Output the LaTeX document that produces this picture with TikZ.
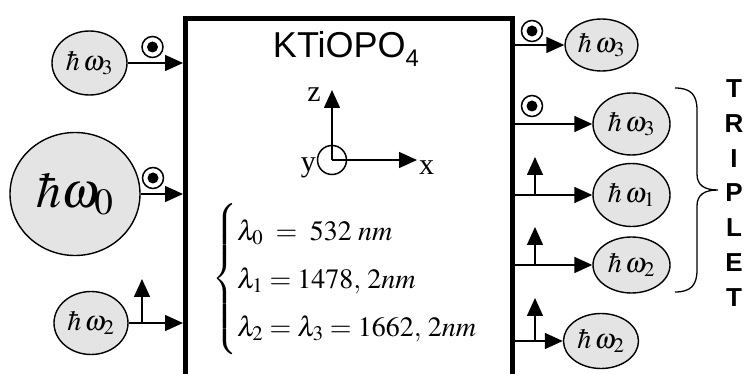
\documentclass[tikz,border=0pt]{standalone}
\usepackage{mathptmx}
\usepackage[no-math]{fontspec}
\setmainfont{Liberation Serif}
\newfontfamily\arial{Liberation Sans}
\usetikzlibrary{arrows.meta,shapes.geometric}
\definecolor{ellgray}{RGB}{228,228,228}
\begin{document}
\begin{tikzpicture}[x=1pt,y=-1pt,
  photon/.style={ellipse, draw, line width=1.4pt, fill=ellgray, inner sep=0pt, font=\fontsize{28}{30}\selectfont},
  arr/.style={line width=1.5pt, -{Triangle[length=18pt,width=16pt]}},
  pol/.style={circle, draw, fill=white, line width=1.5pt, minimum size=21pt, inner sep=0pt},
  lbl/.style={inner sep=0pt, font=\fontsize{30}{30}\selectfont}]
\useasboundingbox (0,0) rectangle (748,374);
\clip (0,0) rectangle (748,374);
% crystal
\node[draw, line width=5pt, outer sep=0pt, minimum width=326.5pt, minimum height=420pt, anchor=north west, inner sep=0pt] (crystal) at (185.5,18.5) {};
\node[anchor=base, inner sep=0pt, font=\arial\fontsize{36}{40}\selectfont] (title) at (346,58) {KTiOPO\raisebox{-9pt}{\fontsize{24}{24}\selectfont 4}};
% axes
\node[circle, draw, line width=1.5pt, minimum size=29pt, inner sep=0pt] (O) at (332,160) {};
\coordinate (zt) at (332,90);
\coordinate (xt) at (417,160);
\draw[arr] (O.center) -- (zt);
\draw[arr] (O.center) -- (xt);
\node[lbl, anchor=base east] (zl) at (321,102) {z};
\node[lbl, anchor=base east] (yl) at (316,172) {y};
\node[lbl, anchor=base west] (xl) at (419,175) {x};
% wavelengths
\node[anchor=west, inner sep=0pt, font=\fontsize{28}{32}\selectfont] (lam) at (212,279) {%
  \renewcommand{\arraystretch}{1.5}%
  $\left\{\begin{array}{@{}l@{}}
  \lambda_0 \;=\; 532\;nm\\
  \lambda_1 = 1478,\,2nm\\
  \lambda_2 = \lambda_3 = 1662,\,2nm
  \end{array}\right.$};
% left photons
\node[photon, minimum width=75pt, minimum height=64pt] (L3) at (89.5,63) {$\hbar\,\omega_3$};
\node[photon, minimum width=130pt, minimum height=123pt, font=\fontsize{50}{54}\selectfont] (L0) at (75,194) {$\hbar\omega\!_0$};
\node[photon, minimum width=74pt, minimum height=63pt] (L2) at (91,323) {$\hbar\,\omega_2$};
\draw[arr, shorten >=2.5pt] (L3) -- (L3 -| crystal.west);
\draw[arr, shorten >=2.5pt] (L0) -- (L0 -| crystal.west);
\draw[arr, shorten >=2.5pt] (L2) -- (L2 -| crystal.west);
\node[pol] (pL3) at (152.5,47) {};
\fill (pL3.center) circle (5.5pt);
\node[pol] (pL0) at (153,178) {};
\fill (pL0.center) circle (5.5pt);
\coordinate (uL2) at (142,323);
\coordinate (uL2t) at (142,279);
\draw[arr] (uL2) -- (uL2t);
% right photons
\node[photon, minimum width=73pt, minimum height=52pt] (R3a) at (601.5,45) {$\hbar\,\omega_3$};
\node[photon, minimum width=77pt, minimum height=62pt] (R3b) at (631.5,124) {$\hbar\,\omega_3$};
\node[photon, minimum width=77pt, minimum height=63pt] (R1) at (631.5,195) {$\hbar\,\omega_1$};
\node[photon, minimum width=77pt, minimum height=56pt] (R2a) at (631.5,265) {$\hbar\,\omega_2$};
\node[photon, minimum width=75pt, minimum height=55pt] (R2b) at (601,341) {$\hbar\,\omega_2$};
\draw[arr] (crystal.east |- R3a) -- (R3a);
\draw[arr] (crystal.east |- R3b) -- (R3b);
\draw[arr] (crystal.east |- R1) -- (R1);
\draw[arr] (crystal.east |- R2a) -- (R2a);
\draw[arr] (crystal.east |- R2b) -- (R2b);
\node[pol] (pR3a) at (532,31) {};
\fill (pR3a.center) circle (5.5pt);
\node[pol] (pR3b) at (532,106) {};
\fill (pR3b.center) circle (5.5pt);
\coordinate (uR1) at (535,195);
\coordinate (uR1t) at (535,157);
\draw[arr] (uR1) -- (uR1t);
\coordinate (uR2a) at (535,265);
\coordinate (uR2at) at (535,227);
\draw[arr] (uR2a) -- (uR2at);
\coordinate (uR2b) at (535,341);
\coordinate (uR2bt) at (535,298);
\draw[arr] (uR2b) -- (uR2bt);
% triplet brace
\draw[line width=1.3pt] (675,88) .. controls (691,88) and (697,95) .. (697,110) -- (697,174)
  .. controls (697,185) and (704,190) .. (718,190)
  .. controls (704,190) and (697,195) .. (697,206) -- (697,270)
  .. controls (697,285) and (691,292) .. (675,292);
\node[inner sep=0pt, align=center, font=\arial\bfseries\fontsize{26}{34.8}\selectfont] (trip) at (734,193) {T\\R\\I\\P\\L\\E\\T};
\end{tikzpicture}
\end{document}
